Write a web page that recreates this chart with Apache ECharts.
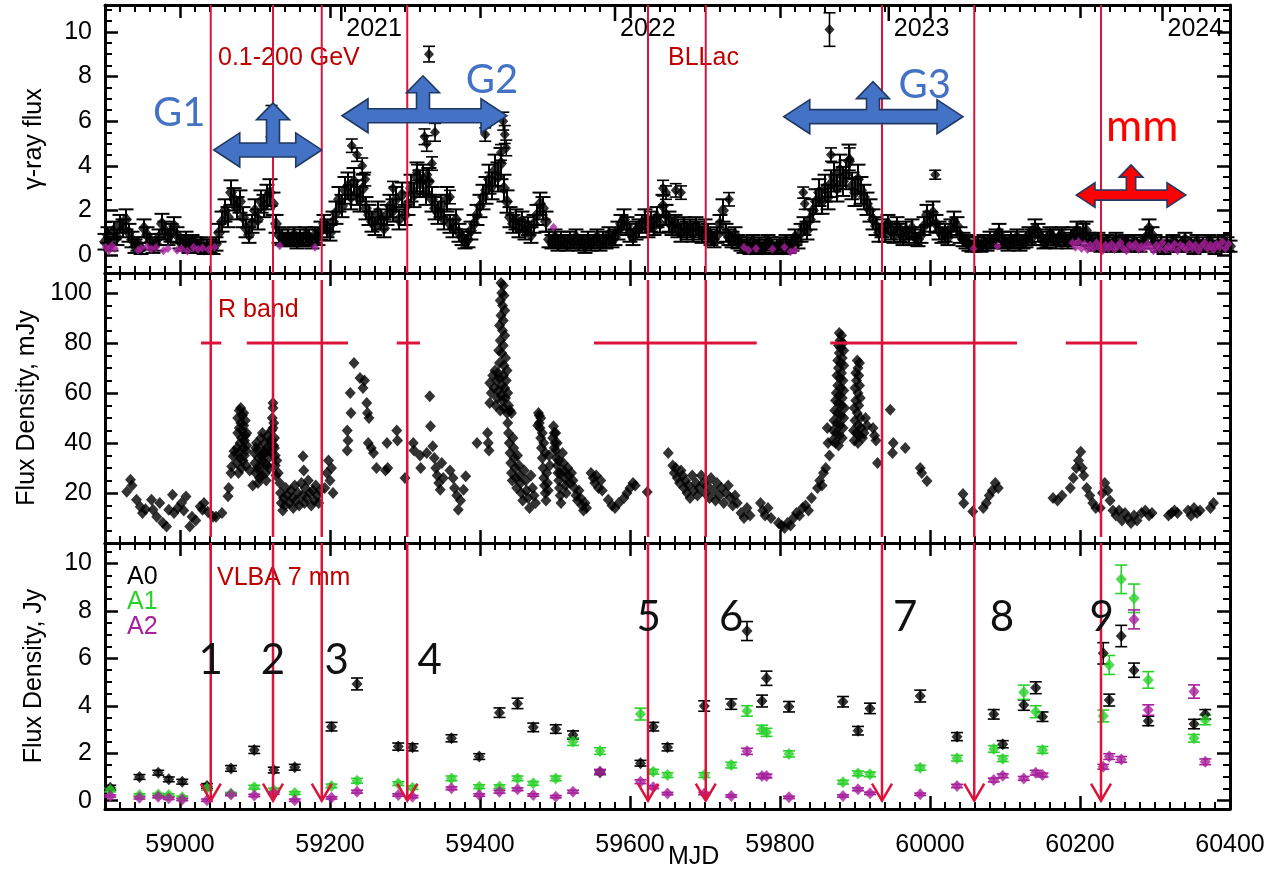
<!DOCTYPE html>
<html>
<head>
<meta charset="utf-8">
<script src="https://cdn.jsdelivr.net/npm/echarts@6.0.0/dist/echarts.min.js"></script>
<style>
  html, body { margin: 0; padding: 0; background: #fff; }
  #chart { width: 1268px; height: 870px; }
</style>
</head>
<body>
<div id="chart"></div>
<script>
// ---------------- data ----------------
// Fermi-LAT gamma-ray flux, 4-day bins starting at MJD 58900
const GAMMA_START = 58900, GAMMA_STEP = 4;
const gammaFlux = [
  0.6,0.9,0.5,1.1,0.8, 1.4,1.2,1.6,1.0,0.7, 0.4,0.5,0.3, 1.2,0.9,0.6, 0.4,0.5,0.8, 1.4,1.1,0.8,1.0,
  1.3,0.9,0.6,0.5, 0.7,0.4,0.6,0.5,0.4,0.5,0.3,0.4, 0.4,0.3,0.5, 1.0,1.5,2.0,1.7, 2.8,2.5,2.1,
  2.4,1.7,1.2,0.9, 1.4,2.0,1.6,2.4, 2.2,2.6,2.8,2.3, 1.4,0.9,0.8,0.7,
  0.8,0.7,0.9,0.6,0.8,0.7,0.9,0.8,0.6,0.9,0.8, 1.1,1.4,1.2,1.0,1.5, 1.9,2.5,2.2,2.9,3.1,
  2.6,3.3,2.8, 2.5,3.0,2.1, 1.8,1.5,1.3,1.9,1.6,1.2,1.8, 2.2,2.0,2.5,1.6,2.7,1.8,
  2.3,3.0,2.7,3.5,3.2, 3.4,2.8,3.3,2.5,2.1,1.9, 2.2,1.6,2.5,1.4,1.2,1.6,1.0,0.8,0.6,
  0.7,1.1,1.4, 1.8,2.2,2.6,2.9,3.4,3.1,3.8, 3.5,4.1,3.0,2.4, 1.7,1.4,1.6,1.2,1.5,1.1,1.3,0.9,1.4,
  1.8,2.3,2.1,1.5,
  0.7,0.6,0.8,0.5,0.7,0.6,0.5,0.7,0.6,0.8,0.5,0.6,0.4,0.7,0.5,0.6,0.8,0.5,0.7,0.6,0.9,0.7,
  0.8,1.1,1.4,1.6,1.3,1.0,0.8,1.1,1.2, 1.4,1.6,1.2,1.5,1.3,1.7,1.4, 2.2,1.8,1.5,1.3,
  1.4,1.2,1.0,1.3,1.1, 1.2,1.0,1.3,1.1,0.9,1.2,1.0,0.8, 0.7,0.9,1.4,2.0,1.0, 0.8,0.7,0.9,0.6,0.5,
  0.4,0.5,0.3,0.6,0.4,0.5,0.3,0.4,0.6,0.5,0.3,0.4,0.5,0.3,0.6,0.4,0.5,0.8,0.6,
  1.0,1.3,1.1,1.6,2.0,2.4, 2.8,2.4,3.0,2.6,3.2, 3.5,3.0,3.8,3.3,3.6,4.2,3.1, 2.8,3.4,2.9,2.6,2.3,
  2.0,1.6,1.3,1.0, 1.2,1.0,1.4,1.1,0.9,1.3,1.0,0.8,1.1,0.9,1.2, 0.8,0.7,0.9, 1.3,1.8,1.5,1.9,1.4,
  1.1,0.9,1.0,0.8,1.2, 1.5,1.3,0.9, 0.7,0.6,0.5,0.4,0.5,
  0.5,0.4,0.6,0.5,0.7,0.6,0.8,1.0,0.7,0.6,0.5,0.7,0.6,0.8,0.5,0.6,0.7,0.9,0.8, 1.2,1.0,0.8,
  0.6,0.7,0.9,0.8,0.6,0.8,0.9,0.7,0.6,0.8, 0.9,1.1,0.8,1.0,1.1,0.7,
  0.6,0.5,0.7,0.4,0.5,0.6,0.4,0.5,0.7,0.4,0.5,0.6,0.5,0.4,0.6,0.5,0.4,0.6,0.8, 1.2,0.9,0.6,
  0.4,0.5,0.3,0.5,0.4,0.6,0.5,0.4,0.5,0.7,0.4,0.5,0.3,0.6,0.4,0.5,0.4,0.6,0.5,0.3,0.5,0.4,0.6,0.5,0.4
];
const gammaErr = [
  0.35,0.35,0.3,0.4,0.35, 0.4,0.4,0.45,0.4,0.35, 0.3,0.3,0.25, 0.4,0.35,0.35, 0.3,0.3,0.35, 0.45,0.4,0.35,0.4,
  0.4,0.35,0.3,0.3, 0.35,0.3,0.3,0.3,0.3,0.3,0.25,0.3, 0.3,0.25,0.3, 0.4,0.45,0.5,0.45, 0.55,0.5,0.5,
  0.5,0.45,0.4,0.35, 0.4,0.5,0.45,0.5, 0.5,0.55,0.6,0.5, 0.4,0.35,0.35,0.3,
  0.35,0.3,0.35,0.3,0.35,0.3,0.35,0.35,0.3,0.35,0.35, 0.4,0.4,0.4,0.35,0.45, 0.5,0.55,0.5,0.6,0.6,
  0.55,0.6,0.55, 0.55,0.6,0.5, 0.45,0.45,0.4,0.5,0.45,0.4,0.45, 0.5,0.5,0.55,0.45,0.55,0.45,
  0.5,0.6,0.55,0.65,0.6, 0.65,0.55,0.6,0.55,0.5,0.5, 0.5,0.45,0.55,0.4,0.4,0.45,0.4,0.35,0.3,
  0.35,0.4,0.4, 0.45,0.5,0.55,0.6,0.65,0.6,0.7, 0.65,0.7,0.6,0.5, 0.45,0.4,0.45,0.4,0.45,0.4,0.4,0.35,0.4,
  0.45,0.5,0.5,0.45,
  0.35,0.3,0.35,0.3,0.35,0.3,0.3,0.35,0.3,0.35,0.3,0.3,0.3,0.35,0.3,0.3,0.35,0.3,0.35,0.3,0.35,0.35,
  0.35,0.4,0.4,0.45,0.4,0.4,0.35,0.4,0.4, 0.4,0.45,0.4,0.45,0.4,0.45,0.4, 0.5,0.45,0.45,0.4,
  0.4,0.4,0.4,0.4,0.4, 0.4,0.4,0.4,0.4,0.35,0.4,0.4,0.35, 0.35,0.35,0.4,0.5,0.4, 0.35,0.35,0.35,0.3,0.3,
  0.3,0.3,0.25,0.3,0.3,0.3,0.25,0.3,0.3,0.3,0.25,0.3,0.3,0.25,0.3,0.3,0.3,0.35,0.3,
  0.4,0.4,0.4,0.45,0.5,0.55, 0.6,0.55,0.6,0.55,0.6, 0.65,0.6,0.7,0.65,0.65,0.75,0.6, 0.6,0.65,0.6,0.55,0.5,
  0.5,0.45,0.4,0.4, 0.4,0.4,0.4,0.4,0.35,0.4,0.4,0.35,0.4,0.35,0.4, 0.35,0.3,0.35, 0.4,0.45,0.45,0.5,0.4,
  0.4,0.35,0.4,0.35,0.4, 0.45,0.4,0.35, 0.3,0.3,0.3,0.25,0.3,
  0.3,0.25,0.3,0.3,0.35,0.3,0.35,0.4,0.35,0.3,0.3,0.35,0.3,0.35,0.3,0.3,0.35,0.35,0.35, 0.4,0.4,0.35,
  0.3,0.35,0.35,0.35,0.3,0.35,0.35,0.3,0.3,0.35, 0.35,0.4,0.35,0.4,0.4,0.3,
  0.3,0.3,0.3,0.25,0.3,0.3,0.25,0.3,0.3,0.25,0.3,0.3,0.3,0.25,0.3,0.3,0.25,0.3,0.35, 0.4,0.35,0.3,
  0.25,0.3,0.25,0.3,0.25,0.3,0.3,0.25,0.3,0.3,0.25,0.3,0.25,0.3,0.25,0.3,0.25,0.3,0.3,0.25,0.3,0.25,0.3,0.3,0.25
];
// single bright gamma-ray bins: [MJD, flux, error]
const gammaFlares = [
  [59122,6.0,0.7],[59229,4.9,0.3],[59236,4.5,0.3],[59243,4.0,0.35],[59247,3.4,0.3],
  [59284,3.0,0.3],[59316,3.7,0.35],[59326,5.3,0.35],[59329,5.0,0.35],[59330,3.6,0.3],
  [59332,9.0,0.35],[59336,4.1,0.3],[59340,5.5,0.4],[59360,2.6,0.3],[59407,5.4,0.3],
  [59428,4.6,0.35],[59431,6.0,0.4],[59433,5.4,0.4],[59435,4.8,0.35],
  [59644,3.0,0.35],[59648,2.8,0.3],[59661,2.9,0.3],[59668,2.8,0.3],[59732,2.5,0.3],
  [59831,2.8,0.25],[59833,2.3,0.25],[59866,10.1,0.75],[59868,4.5,0.3],[59893,4.3,0.5],
  [60007,3.6,0.2]
];
// low-significance gamma-ray bins: [MJD, flux]
const gammaLow = [
  [58901,0.35],[58905,0.2],[58909,0.42],[58913,0.3],[58944,0.22],[58948,0.3],[58956,0.38],[58962,0.28],
  [58968,0.34],[58978,0.2],[58984,0.3],[58996,0.22],[59002,0.3],[59010,0.18],[59018,0.35],[59024,0.26],
  [59030,0.32],[59038,0.25],[59046,0.35],[59133,0.42],[59180,0.35],[59498,1.25],[59752,0.35],[59758,0.22],
  [59768,0.3],[59790,0.28],[59806,0.35],[59814,0.15],[59820,0.22],[60058,0.3],[60090,0.4],
  [60190,0.55],[60194,0.35],[60198,0.6],[60202,0.3],[60206,0.5],[60210,0.25],[60214,0.45],[60218,0.3],
  [60222,0.55],[60226,0.35],[60230,0.2],[60234,0.45],[60238,0.3],[60242,0.5],[60246,0.25],[60250,0.4],
  [60254,0.55],[60258,0.3],[60262,0.2],[60266,0.45],[60270,0.35],[60274,0.5],[60278,0.25],[60282,0.4],
  [60286,0.3],[60290,0.5],[60294,0.35],[60298,0.2],[60302,0.45],[60306,0.3],[60310,0.55],[60314,0.25],
  [60318,0.4],[60322,0.3],[60326,0.5],[60330,0.2],[60334,0.45],[60338,0.35],[60342,0.25],[60346,0.5],
  [60350,0.3],[60354,0.45],[60358,0.2],[60362,0.4],[60366,0.55],[60370,0.3],[60374,0.45],[60378,0.25],
  [60382,0.5],[60386,0.35],[60390,0.6],[60394,0.3],[60398,0.5]
];

// optical R-band flux density: [MJD, mJy]
const rBand = [
  [58929,20.5],[58934,25.3],[58936,23.0],[58942,17.3],[58947,14.5],[58950,12.0],[58954,13.5],[58962,17.3],
  [58964,13.3],[58969,10.5],[58973,16.0],[58977,8.1],[58982,6.6],[58985,13.3],[58990,19.3],[58992,12.0],
  [58997,14.0],[59002,16.0],[59005,13.0],[59008,18.6],[59013,6.6],[59016,10.5],[59021,9.0],[59027,14.6],
  [59030,13.3],[59032,16.0],[59037,12.5],[59044,10.5],[59048,10.5],[59056,12.0],
  [59064,18.7],[59065,22.0],[59068,28.0],[59069,30.6],[59071,34.7],[59072,36.7],
  [59076,32],[59076,38],[59077,44],[59077,50],[59078,36],[59078,28],[59079,53],[59079,46],[59080,40],
  [59080,34],[59081,54],[59081,48],[59082,42],[59082,30],[59083,51],[59083,45],[59084,38],[59084,33],
  [59085,52],[59085,47],[59086,41],[59086,35],[59087,49],[59087,43],[59088,37],[59088,31],[59089,44],
  [59089,39],[59093,29],[59097,23],
  [59099,36],[59100,32],[59101,28],[59101,38],[59102,40],[59103,30],[59104,24],[59105,34],[59106,38],
  [59106,26],[59107,30],[59108,42],[59108,35],[59109,27],[59110,44],[59110,33],[59111,36],[59112,32],
  [59113,40],[59113,36],[59114,28],[59115,25],[59116,38],[59116,31],[59117,43],[59118,34],[59119,30],
  [59119,37],[59120,41],
  [59122,45],[59122,36],[59123,50],[59123,41],[59124,54],[59124,56],[59124,46],[59125,48],[59125,39],
  [59126,42],[59126,38],[59127,35],[59127,31],[59128,27],[59129,33],[59131,28],[59133,24],[59134,20],
  [59135,16],[59137,13],[59138,18],[59140,15],[59141,22],[59143,19],
  [59146,16],[59148,21],[59150,18],[59151,14],[59153,23],[59155,17],[59157,20],[59159,15],[59164,34.7],
  [59165,29],[59162,24],[59163,19],[59166,16],[59167,22],[59169,18],[59171,25],[59173,20],[59175,15],
  [59177,21],[59179,17],[59181,23],[59183,19],[59185,16],[59187,21],
  [59193,22],[59196,28],[59198,33],[59200,25],[59202,30],[59204,20],
  [59223,45],[59224,41],[59223,37],[59227,60],[59228,52],[59232,72],[59240,66],[59244,62],[59246,65],
  [59249,56],[59250,52],[59252,50],[59251,40],[59255,38],[59258,36],[59262,30],[59274,29],[59277,30],
  [59276,40],[59289,45],[59290,41],[59300,26],[59311,40],[59312,37],
  [59320,35],[59321,30],[59329,36],[59333,58.7],[59334,46.7],
  [59337,38.7],[59339,34],[59341,30],[59343,27],[59345,24],[59347,21.3],[59349,32],[59351,26],
  [59360,29],[59364,26],[59366,22],[59369,19],[59371,13.3],[59374,17],[59378,21.3],[59381,26.7],
  [59396,40],[59410,44],[59411,40],[59412,37],
  [59428,104],[59431,103],[59429,100],[59432,99],[59427,97],[59430,95],[59433,93],[59428,91],[59431,89],
  [59426,87],[59430,85],[59433,83],[59427,81],[59431,79],[59425,77],[59429,76],[59434,74],[59426,72],
  [59432,71],[59413,56],[59413,64],[59415,60],[59417,67],[59419,62],[59420,69],[59421,55],[59422,65],
  [59423,58],[59424,68],[59425,61],[59426,66],[59427,53],[59428,59],[59429,63],[59430,57],[59431,67],
  [59432,54],[59433,62],[59434,58],[59435,65],[59436,52],[59437,60],[59438,55],[59440,53],[59442,52],
  [59436,69],
  [59437,48],[59438,44],[59439,40],[59440,36],[59441,32],[59442,28],[59443,25],[59444,42],[59445,38],
  [59446,34],[59447,30],[59448,26],[59449,22],[59450,35],[59452,31],[59453,27],[59454,24],[59455,20],
  [59457,17],[59459,29],[59461,25],[59462,21],[59464,18],[59466,14],[59468,27],[59470,22],[59472,19],
  [59474,16],
  [59477,47],[59478,52],[59479,51],[59479,48],[59480,46],[59481,42],[59481,50],[59482,38],[59483,34],
  [59483,44],[59484,30],[59485,26],[59485,40],[59486,23],[59487,20],[59487,36],[59488,17],[59489,28],
  [59490,24],[59491,21],[59492,35],[59493,31],
  [59497,42],[59498,46.7],[59499,44],[59499,38],[59500,40],[59501,37],[59501,44],[59502,34],[59503,31],
  [59503,40],[59504,28],[59505,25],[59505,33],[59506,22],[59507,19],[59507,28],[59508,16],[59510,36],
  [59511,32],[59512,29],[59513,26],[59514,23],[59515,20],[59517,30],[59518,27],[59520,24],
  [59522,28],[59524,25],[59526,22],[59528,19],[59530,17],[59532,21],[59534,18],[59536,15],[59538,13],
  [59540,16],[59542,14],
  [59548,28],[59551,26],[59553,24],[59555,27],[59558,22],[59561,25],[59563,21],
  [59571,17.3],[59576,15],[59580,14],[59585,16],
  [59592,18],[59596,20],[59600,22],[59604,24],[59607,23],[59623,20.4],[59651,36],
  [59657,31],[59659,28],[59661,30],[59663,26],[59666,24],[59668,29],[59670,27],[59672,22],[59674,25],
  [59676,20],[59678,23],[59680,18],[59683,27],[59685,21],[59688,24],[59690,19],[59692,22],
  [59695,27],[59698,24],[59700,20],[59703,23],[59706,18],[59708,26],[59711,21],[59714,17],[59716,24],
  [59719,19],[59722,22],[59725,16],[59728,20],[59731,23],[59734,18],[59737,15],[59740,19],[59743,16],
  [59748,12],[59752,10],[59756,14],[59760,11],
  [59774,16],[59777,13],[59780,11],[59784,14],[59788,10],
  [59798,8],[59802,7],[59806,6],[59810,8],[59814,7],
  [59818,10],[59822,12],[59826,11],[59830,14],[59834,15],[59838,13],[59842,18],
  [59850,22],[59853,25],[59856,23],[59858,28],[59861,30],[59863,46],[59864,40],[59866,35],
  [59879,84],[59882,83],[59880,81],[59884,80],[59878,79],[59881,78],[59885,77],[59879,76],[59883,74],
  [59877,73],[59881,72],[59885,71],[59878,70],[59882,68],[59876,67],[59880,66],[59884,65],[59877,63],
  [59881,62],[59885,61],[59875,60],[59879,59],[59883,58],[59874,57],[59878,56],[59882,55],[59886,54],
  [59873,53],[59877,52],[59881,51],[59885,50],[59872,49],[59876,48],[59880,47],[59884,46],[59871,45],
  [59875,44],[59879,43],[59883,42],[59870,41],[59874,40],[59878,39],
  [59903,73],[59906,72],[59904,70],[59901,68],[59905,67],[59902,65],[59906,63],[59900,62],[59904,60],
  [59907,58],[59901,57],[59905,55],[59899,54],[59903,52],[59907,50],[59900,49],[59904,47],[59908,46],
  [59898,45],[59902,44],[59906,43],[59910,42],[59899,41],[59904,40],[59912,44],[59914,50],[59916,47],
  [59924,46],[59926,43],[59928,41],[59930,32],
  [59947,53.3],[59951,40],[59950,36],[59967,38],[59987,30],[59989,28],[59996,24.8],
  [60044,19.6],[60045,15.9],[60057,12.6],
  [60071,14],[60075,16],[60079,19],[60083,21],[60087,24],[60091,22],
  [60164,18],[60170,17],[60176,19],
  [60187,22],[60191,26],[60195,30],[60198,33],[60201,36.5],[60203,30],[60205,27],
  [60209,22],[60213,19],[60217,16],[60221,14],
  [60227,14],[60230,20],[60233,24],[60237,21],[60240,17],[60244,13],
  [60248,11],[60252,13],[60256,9],[60260,12],[60264,10],[60268,8],[60272,11],[60276,9],
  [60282,12],[60287,13],[60292,11],[60296,12],
  [60318,11],[60322,12],[60326,13],[60330,12],
  [60344,13],[60348,11],[60352,14],[60356,12],[60360,13],
  [60374,14],[60378,16]
];

// VLBA 43 GHz knot flux densities (Jy)
const vlbaEpoch = [
  58907,58946,58971,58985,59003,59036,59068,59099,59125,59153,
  59202,59236,59291,59310,59362,59399,59426,59450,59471,59501,
  59524,59560,59614,59631,59650,59699,59735,59756,59776,59782,
  59812,59884,59904,59920,59987,60036,60085,60097,60125,60141,
  60150,60231,60239,60255,60272,60291,60352,60367
];
const a0Flux = [
  0.55,1.0,1.18,0.9,0.8,0.62,1.36,2.14,1.29,1.41,
  3.12,4.92,2.28,2.25,2.63,1.86,3.71,4.1,3.09,3.02,
  2.77,1.2,1.58,3.12,2.25,3.99,4.07,7.15,4.2,5.16,
  3.96,4.17,2.95,3.89,4.41,2.7,3.64,2.38,4.03,4.76,
  3.54,6.21,4.24,6.94,5.5,3.36,3.23,3.64
];
const a0Err = [
  0.1,0.1,0.1,0.1,0.1,0.1,0.12,0.15,0.12,0.12,
  0.18,0.25,0.15,0.15,0.15,0.12,0.2,0.22,0.18,0.18,
  0.17,0.1,0.12,0.18,0.15,0.22,0.22,0.4,0.25,0.3,
  0.22,0.22,0.18,0.22,0.25,0.17,0.2,0.15,0.22,0.25,
  0.2,0.45,0.25,0.45,0.3,0.2,0.2,0.2
];
const a1Flux = [
  0.45,0.24,0.26,0.24,0.14,0.52,0.3,0.57,0.45,0.32,
  0.62,0.84,0.72,0.55,0.94,0.59,0.59,0.94,0.73,0.94,
  2.49,2.09,3.65,1.22,1.08,1.08,1.5,3.78,3.0,2.88,
  1.97,0.78,1.15,1.11,1.39,1.79,2.18,1.77,4.57,3.75,
  2.14,3.57,5.72,9.33,8.53,5.09,2.63,3.4
];
const a1Err = [
  0.08,0.05,0.05,0.05,0.05,0.08,0.05,0.08,0.08,0.06,
  0.08,0.1,0.08,0.08,0.1,0.08,0.08,0.1,0.08,0.1,
  0.16,0.14,0.25,0.1,0.1,0.1,0.12,0.22,0.18,0.17,
  0.13,0.08,0.1,0.1,0.1,0.12,0.14,0.12,0.3,0.25,
  0.14,0.25,0.4,0.6,0.6,0.35,0.16,0.2
];
const a2Flux = [
  0.2,0.12,0.17,0.1,0.05,0.02,0.26,0.22,0.32,0.02,
  0.12,0.38,0.24,0.17,0.52,0.24,0.38,0.48,0.24,0.17,
  0.38,1.22,0.8,0.57,0.3,0.3,0.2,2.08,1.04,1.04,
  0.14,0.2,0.48,0.31,0.27,0.62,0.87,1.05,0.94,1.18,
  1.08,1.43,1.86,1.74,7.64,3.82,4.6,1.64
];
const a2Err = [
  0.05,0.05,0.05,0.05,0.05,0.05,0.05,0.05,0.05,0.05,
  0.05,0.06,0.05,0.05,0.06,0.05,0.06,0.06,0.05,0.05,
  0.06,0.1,0.08,0.06,0.05,0.05,0.05,0.13,0.08,0.08,
  0.05,0.05,0.06,0.05,0.05,0.07,0.08,0.08,0.08,0.1,
  0.08,0.1,0.12,0.12,0.4,0.22,0.28,0.12
];

// knot ejection epochs and their numbering
const eventMJD = [59041,59124,59189,59303,59624,59701,59936,60059,60228];
const eventName = ['1','2','3','4','5','6','7','8','9'];
const eventLabelMJD = [59041,59124,59209,59333,59625,59735,59967,60096,60229];
const eventLabelJy = [5.93,5.93,5.93,5.93,7.74,7.74,7.74,7.74,7.74];
// ejection-time uncertainty spans drawn at 80 mJy in the optical panel
const ejectSpans = [[59028,59055],[59089,59224],[59289,59320],[59552,59769],[59867,60116],[60181,60276]];
const EJECT_SPAN_LEVEL = 80;

// gamma-ray activity periods
const periodName = ['G1','G2','G3','mm'];
const periodFrom = [59045,59216,59805,60195];
const periodTo = [59189,59436,60044,60341];
const periodPeak = [59124,59324,59924,60268];
const periodLevel = [4.71,6.24,6.2,2.69];
const periodTip = [6.82,8.03,7.77,4.04];
const periodLabelMJD = [58999,59416,59993,60283];
const periodLabelFlux = [6.37,7.85,7.6,5.74];

// calendar years on the upper MJD axis
const yearMJD = [59215,59580,59945,60310];
const yearName = ['2021','2022','2023','2024'];

// axis ticks
const mjdTicks = [59000,59200,59400,59600,59800,60000,60200,60400];
const gammaTicks = [0,2,4,6,8,10];
const rBandTicks = [20,40,60,80,100];
const vlbaTicks = [0,2,4,6,8,10];

// ---------------- styling ----------------
const FONT = '"Liberation Sans", Arial, Helvetica, sans-serif';
const RED = '#DC143C';
const DARK_RED = '#C00000';
const GREEN = '#2BD12B';
const PURPLE = '#A8209C';
const X_MIN = 58900, X_MAX = 60400;
const Y_RANGE = [[-0.8, 11.2], [0, 108], [-0.35, 10.86]];
const Y_MAJOR = [gammaTicks, rBandTicks, vlbaTicks];
const Y_MINOR_STEP = [0.5, 5, 0.5];
const Y_NAME = ['\u03b3-ray flux', 'Flux Density, mJy', 'Flux Density, Jy'];
const GRIDS = [
  { left: 105, width: 1125, top: 5, height: 268 },
  { left: 105, width: 1125, top: 273, height: 270 },
  { left: 105, width: 1125, top: 543, height: 266 }
];
const arrowScale = [1, 1, 1, 0.72];
const arrowFill = ['#4472C4', '#4472C4', '#4472C4', '#FF0000'];
const periodLabelColor = ['#4472C4', '#4472C4', '#4472C4', '#FF0000'];
const periodLabelFont = ['40px Lato', '40px Lato', '40px Lato', '44px Lato'];

function minorValues(min, max, step, major) {
  const out = [];
  const n0 = Math.ceil(min / step - 1e-9), n1 = Math.floor(max / step + 1e-9);
  for (let k = n0; k <= n1; k++) {
    const v = +(k * step).toFixed(6);
    if (v > min && v < max && !major.some(m => Math.abs(m - v) < 1e-9)) out.push(v);
  }
  return out;
}
const mjdMinor = minorValues(X_MIN, X_MAX, 20, mjdTicks);

function makeAxis(g, pos, min, max, ticks, len, primary, labels, extra) {
  return Object.assign({
    type: 'value', gridIndex: g, position: pos, min: min, max: max,
    axisLine: { show: primary, onZero: false, lineStyle: { color: '#000', width: 3 } },
    axisTick: { show: true, inside: true, length: len, customValues: ticks,
                lineStyle: { color: '#000', width: primary ? 2.5 : 2 } },
    axisLabel: labels ? { show: true, customValues: ticks, color: '#000', fontSize: 25,
                          fontFamily: FONT, margin: labels.margin,
                          formatter: v => String(v) } : { show: false },
    splitLine: { show: false }, minorTick: { show: false }, splitArea: { show: false },
    silent: true
  }, extra || {});
}

const xAxes = [], yAxes = [];
for (let g = 0; g < 3; g++) {
  xAxes.push(makeAxis(g, 'bottom', X_MIN, X_MAX, mjdTicks, 13, true, g === 2 ? { margin: 24 } : null));
  xAxes.push(makeAxis(g, 'bottom', X_MIN, X_MAX, mjdMinor, 7, false, null));
  xAxes.push(makeAxis(g, 'top', X_MIN, X_MAX, mjdTicks, 13, true, null));
  xAxes.push(makeAxis(g, 'top', X_MIN, X_MAX, mjdMinor, 7, false, null));
  const [ymin, ymax] = Y_RANGE[g];
  const yMinor = minorValues(ymin, ymax, Y_MINOR_STEP[g], Y_MAJOR[g]);
  yAxes.push(makeAxis(g, 'left', ymin, ymax, Y_MAJOR[g], 13, true, { margin: 13 }, {
    name: Y_NAME[g], nameLocation: 'middle', nameGap: 58,
    nameTextStyle: { fontSize: 25, fontFamily: FONT, color: '#000' }
  }));
  yAxes.push(makeAxis(g, 'left', ymin, ymax, yMinor, 7, false, null));
  yAxes.push(makeAxis(g, 'right', ymin, ymax, Y_MAJOR[g], 13, true, null));
  yAxes.push(makeAxis(g, 'right', ymin, ymax, yMinor, 7, false, null));
}

// ---------------- render helpers ----------------
function errorBars(color, width, cap) {
  return function (params, api) {
    const x = api.value(0), y = api.value(1), e = api.value(2);
    const hi = api.coord([x, y + e]), lo = api.coord([x, y - e]);
    const st = { stroke: color, lineWidth: width };
    return { type: 'group', children: [
      { type: 'line', shape: { x1: hi[0], y1: hi[1], x2: lo[0], y2: lo[1] }, style: st },
      { type: 'line', shape: { x1: hi[0] - cap, y1: hi[1], x2: hi[0] + cap, y2: hi[1] }, style: st },
      { type: 'line', shape: { x1: lo[0] - cap, y1: lo[1], x2: lo[0] + cap, y2: lo[1] }, style: st }
    ] };
  };
}
function onGrid(g) { return { xAxisIndex: 4 * g, yAxisIndex: 4 * g }; }

const gammaPoints = gammaFlux.map((v, i) => [GAMMA_START + i * GAMMA_STEP, v, gammaErr[i]]);
const comp = (flux, err) => vlbaEpoch.map((t, i) => [t, flux[i], err[i]]);
const a0 = comp(a0Flux, a0Err), a1 = comp(a1Flux, a1Err), a2 = comp(a2Flux, a2Err);

const series = [];
// --- gamma-ray panel
series.push(Object.assign({ type: 'custom', name: 'gamma-err', data: gammaPoints,
  renderItem: errorBars('#000', 2, 7.5), z: 3 }, onGrid(0)));
series.push(Object.assign({ type: 'scatter', name: 'gamma', data: gammaPoints, symbol: 'diamond',
  symbolSize: [12, 14], itemStyle: { color: '#000' }, z: 3 }, onGrid(0)));
series.push(Object.assign({ type: 'scatter', name: 'gamma-low', data: gammaLow, symbol: 'diamond',
  symbolSize: [8, 9], itemStyle: { color: PURPLE }, z: 4 }, onGrid(0)));
series.push(Object.assign({ type: 'custom', name: 'gamma-flare-err', data: gammaFlares,
  renderItem: errorBars('#000', 1.6, 6), z: 3 }, onGrid(0)));
series.push(Object.assign({ type: 'scatter', name: 'gamma-flare', data: gammaFlares, symbol: 'diamond',
  symbolSize: [10, 11], itemStyle: { color: '#000' }, z: 3 }, onGrid(0)));

// --- optical panel
series.push(Object.assign({ type: 'scatter', name: 'R band', data: rBand, symbol: 'diamond',
  symbolSize: [11, 12], itemStyle: { color: '#000' }, z: 3 }, onGrid(1)));

// --- VLBA panel
[[a0, '#000', 'A0'], [a1, GREEN, 'A1'], [a2, PURPLE, 'A2']].forEach(([pts, col, nm]) => {
  series.push(Object.assign({ type: 'custom', name: nm + ' err', data: pts,
    renderItem: errorBars(col, 1.6, 6), z: 3 }, onGrid(2)));
  series.push(Object.assign({ type: 'scatter', name: nm, data: pts, symbol: 'diamond',
    symbolSize: [11, 12], itemStyle: { color: col }, z: 3 }, onGrid(2)));
});

// --- ejection epochs across the three panels
series.push(Object.assign({ type: 'custom', name: 'eject-gamma', data: eventMJD.map(t => [t, 0]), z: 5,
  renderItem: (p, api) => {
    const a = api.coord([api.value(0), Y_RANGE[0][1]]), b = api.coord([api.value(0), Y_RANGE[0][0]]);
    return { type: 'line', shape: { x1: a[0], y1: a[1], x2: b[0], y2: b[1] }, style: { stroke: RED, lineWidth: 2 } };
  } }, onGrid(0)));
series.push(Object.assign({ type: 'custom', name: 'eject-optical', data: eventMJD.map(t => [t, 0]), z: 5,
  renderItem: (p, api) => {
    const a = api.coord([api.value(0), 105.2]), b = api.coord([api.value(0), 2.4]);
    return { type: 'line', shape: { x1: a[0], y1: a[1], x2: b[0], y2: b[1] }, style: { stroke: RED, lineWidth: 2.5 } };
  } }, onGrid(1)));
series.push(Object.assign({ type: 'custom', name: 'eject-spans', data: ejectSpans.map(s => [s[0], EJECT_SPAN_LEVEL, s[1]]), z: 5,
  renderItem: (p, api) => {
    const a = api.coord([api.value(0), api.value(1)]), b = api.coord([api.value(2), api.value(1)]);
    return { type: 'line', shape: { x1: a[0], y1: a[1], x2: b[0], y2: b[1] }, style: { stroke: RED, lineWidth: 3 } };
  } }, onGrid(1)));
series.push(Object.assign({ type: 'custom', name: 'eject-vlba', data: eventMJD.map(t => [t, 0]), z: 5,
  renderItem: (p, api) => {
    const a = api.coord([api.value(0), Y_RANGE[2][1]]), b = api.coord([api.value(0), 0]);
    const st = { stroke: RED, lineWidth: 2.5, fill: null };
    return { type: 'group', children: [
      { type: 'line', shape: { x1: a[0], y1: a[1], x2: b[0], y2: b[1] }, style: st },
      { type: 'polyline', shape: { points: [[b[0] - 10, b[1] - 17], [b[0], b[1]], [b[0] + 10, b[1] - 17]] }, style: st }
    ] };
  } }, onGrid(2)));
series.push(Object.assign({ type: 'custom', name: 'eject-labels',
  data: eventLabelMJD.map((t, i) => [t, eventLabelJy[i]]), z: 6,
  renderItem: (p, api) => {
    const c = api.coord([api.value(0), api.value(1)]);
    return { type: 'text', x: c[0], y: c[1], style: { text: eventName[p.dataIndex], align: 'center',
      verticalAlign: 'middle', font: '42px Lato', fill: '#111' } };
  } }, onGrid(2)));

// --- activity-period arrows
series.push(Object.assign({ type: 'custom', name: 'periods', z: 7,
  data: periodName.map((n, i) => [periodFrom[i], periodLevel[i], periodTo[i], periodPeak[i], periodTip[i],
                                   periodLabelMJD[i], periodLabelFlux[i]]),
  renderItem: (p, api) => {
    const i = p.dataIndex, k = arrowScale[i];
    const left = api.coord([api.value(0), api.value(1)]);
    const x0 = left[0], yc = left[1];
    const x1 = api.coord([api.value(2), api.value(1)])[0];
    const xc = api.coord([api.value(3), api.value(1)])[0];
    const yt = api.coord([api.value(3), api.value(4)])[1];
    const t = 7 * k, h = 17 * k, L = 26 * k, s = 6.5 * k, w = 16.5 * k, Lu = 17 * k;
    const pts = [[x0, yc], [x0 + L, yc - h], [x0 + L, yc - t], [xc - s, yc - t], [xc - s, yt + Lu],
      [xc - w, yt + Lu], [xc, yt], [xc + w, yt + Lu], [xc + s, yt + Lu], [xc + s, yc - t],
      [x1 - L, yc - t], [x1 - L, yc - h], [x1, yc], [x1 - L, yc + h], [x1 - L, yc + t],
      [x0 + L, yc + t], [x0 + L, yc + h]];
    const lp = api.coord([api.value(5), api.value(6)]);
    return { type: 'group', children: [
      { type: 'polygon', shape: { points: pts }, style: { fill: arrowFill[i], stroke: '#203864', lineWidth: 1.6 } },
      { type: 'text', x: lp[0], y: lp[1], style: { text: periodName[i], align: 'center', verticalAlign: 'middle',
        font: periodLabelFont[i], fill: periodLabelColor[i] } }
    ] };
  } }, onGrid(0)));

// --- calendar year marks
series.push(Object.assign({ type: 'custom', name: 'years', z: 6, data: yearMJD.map(t => [t, 0]),
  renderItem: (p, api) => {
    const c = api.coord([api.value(0), Y_RANGE[0][1]]);
    return { type: 'group', children: [
      { type: 'line', shape: { x1: c[0], y1: c[1], x2: c[0], y2: c[1] + 16 }, style: { stroke: '#000', lineWidth: 2.5 } },
      { type: 'text', x: c[0] + 5, y: c[1] + 24, style: { text: yearName[p.dataIndex], align: 'left',
        verticalAlign: 'middle', font: '25px ' + FONT, fill: '#000' } }
    ] };
  } }, onGrid(0)));

const option = {
  animation: false,
  backgroundColor: '#fff',
  textStyle: { fontFamily: FONT },
  grid: GRIDS,
  xAxis: xAxes,
  yAxis: yAxes,
  legend: {
    orient: 'vertical', left: 122, top: 565, itemWidth: 0, itemHeight: 0, itemGap: 0,
    icon: 'rect', selectedMode: false, padding: 0,
    textStyle: { fontSize: 25, fontFamily: FONT, lineHeight: 25 },
    data: [
      { name: 'A0', textStyle: { color: '#000' } },
      { name: 'A1', textStyle: { color: GREEN } },
      { name: 'A2', textStyle: { color: PURPLE } }
    ]
  },
  graphic: [
    { type: 'text', left: 218, top: 46, style: { text: '0.1-200 GeV', fill: DARK_RED, font: '25px ' + FONT } },
    { type: 'text', left: 668, top: 46, style: { text: 'BLLac', fill: DARK_RED, font: '25px ' + FONT } },
    { type: 'text', left: 218, top: 298, style: { text: 'R band', fill: DARK_RED, font: '25px ' + FONT } },
    { type: 'text', left: 217, top: 566, style: { text: 'VLBA 7 mm', fill: DARK_RED, font: '25px ' + FONT } },
    { type: 'text', left: 668, top: 845, style: { text: 'MJD', fill: '#000', font: '25px ' + FONT } }
  ],
  series: series
};

const chart = echarts.init(document.getElementById('chart'), null, { renderer: 'canvas' });
chart.setOption(option);
</script>
</body>
</html>
